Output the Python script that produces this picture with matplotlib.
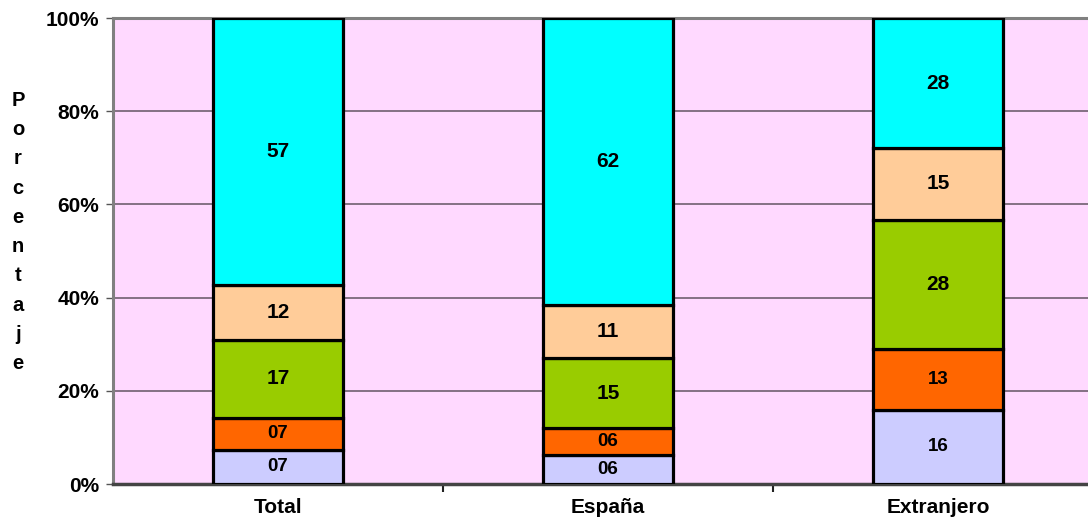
import matplotlib
matplotlib.use("Agg")
import matplotlib.pyplot as plt
import numpy as np

plt.rcParams['font.family'] = ['Liberation Sans', 'DejaVu Sans']

categories = ["Total", "España", "Extranjero"]
serie1 = [7.4, 6.2, 15.9]
serie2 = [6.7, 5.8, 13.1]
serie3 = [16.9, 15.0, 27.7]
serie4 = [11.6, 11.4, 15.4]
serie5 = [57.4, 61.6, 27.9]
series = [serie1, serie2, serie3, serie4, serie5]
colors = ["#CCCCFF", "#FF6600", "#99CC00", "#FFCC99", "#00FFFF"]
label_sizes = [13.5, 13.5, 15, 15, 15]
yticks = [0, 20, 40, 60, 80, 100]
ytick_labels = ["0%", "20%", "40%", "60%", "80%", "100%"]
ylabel = "Porcentaje"

fig = plt.figure(figsize=(10.88, 5.23), dpi=100)
ax = fig.add_axes([113/1088, 39/523, 990/1088, 466/523])
ax.set_facecolor("#FFD9FF")

x = np.arange(len(categories))
bottom = np.zeros(len(categories))
for vals, col, fs in zip(series, colors, label_sizes):
    vals = np.array(vals)
    ax.bar(x, vals, width=0.394, bottom=bottom, color=col, edgecolor="black",
           linewidth=2.3, zorder=3)
    for xi, b, v in zip(x, bottom, vals):
        ax.text(xi, b + v / 2, f"{int(round(v)):02d}", ha="center", va="center",
                fontsize=fs, fontweight="bold", color="black", zorder=4)
    bottom += vals

ax.set_xlim(-0.5, 2.5)
ax.set_ylim(0, 100)
ax.set_yticks(yticks)
ax.set_yticklabels(ytick_labels, fontsize=15, fontweight="bold")
ax.set_xticks(x)
ax.set_xticklabels(categories, fontsize=15, fontweight="bold")
ax.set_xticks([0.5, 1.5], minor=True)
ax.tick_params(axis="x", which="major", length=0, pad=10)
ax.tick_params(axis="x", which="minor", length=6, width=1.5, color="#222222")
ax.tick_params(axis="y", length=5, width=1, color="#555555", pad=5)
ax.yaxis.grid(True, color="#6f5f6f", linewidth=1.2, zorder=1)
ax.set_axisbelow(True)

for side in ["left", "top"]:
    ax.spines[side].set_color("#808080")
    ax.spines[side].set_linewidth(2.2)
ax.spines["bottom"].set_color("#444444")
ax.spines["bottom"].set_linewidth(2.5)
ax.spines["right"].set_visible(False)

fig.text(18/1088, 1 - 232/523, "\n".join(list(ylabel)), ha="center", va="center",
         fontsize=14.5, fontweight="bold", linespacing=1.685)

fig.savefig("out.png", dpi=100)
